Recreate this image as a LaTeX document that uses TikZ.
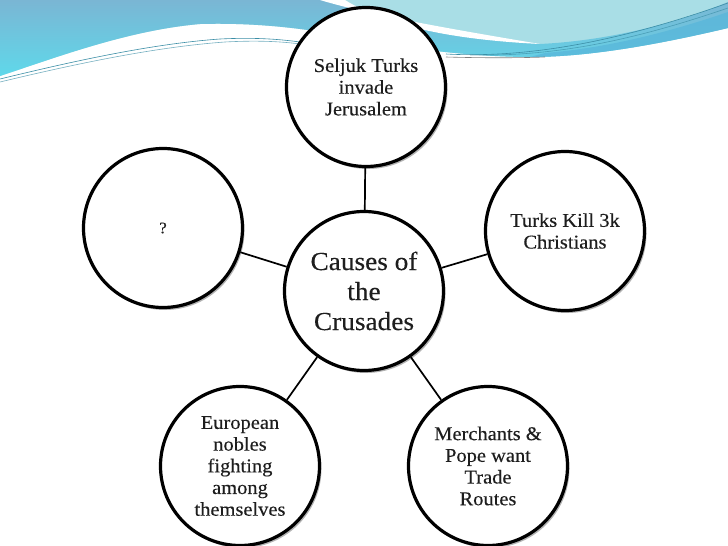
\documentclass[tikz,border=0pt]{standalone}
\usepackage{fontspec}
\setmainfont{Liberation Serif}[FakeStretch=1.05,FakeBold=0.25]
\usetikzlibrary{shadows}
\definecolor{aqua}{HTML}{A9DEE6}
\definecolor{mblue}{HTML}{7AB6D4}
\definecolor{cyanl}{HTML}{5FD8EA}
\definecolor{bandblue}{HTML}{58B6DA}
\definecolor{tealline}{HTML}{3B8EA6}
\definecolor{txt}{HTML}{1E1E1E}
\begin{document}
\begin{tikzpicture}[x=1pt,y=-1pt,
  bub/.style={circle, draw=black, line width=3.2pt, fill=white, minimum size=159pt,
    inner sep=0pt, align=center, text=txt, font=\fontsize{19.5}{21.7}\selectfont,
    drop shadow={shadow xshift=2pt, shadow yshift=-2.5pt, opacity=0.3, fill=black}},
  link/.style={line width=1.7pt, black},
  thin/.style={line width=0.6pt, tealline}]
\useasboundingbox (0,0) rectangle (728,546);
\fill[white] (0,0) rectangle (728,546);
% decorative wave at the top
\fill[aqua] (0,0) -- (728,0) -- (728,28) .. controls (660,44) and (590,57) .. (530,57)
  .. controls (480,57) and (420,50) .. (370,42) .. controls (330,32) and (270,22) .. (200,24)
  .. controls (130,30) and (60,56) .. (0,76) -- cycle;
\shade[top color=mblue, bottom color=cyanl] (0,0) -- (332,0) .. controls (375,20) and (440,32) .. (540,44)
  .. controls (620,40) and (690,18) .. (728,2) -- (728,28) .. controls (660,44) and (590,57) .. (530,57)
  .. controls (480,57) and (420,50) .. (370,42) .. controls (330,32) and (270,22) .. (200,24)
  .. controls (130,30) and (60,56) .. (0,76) -- cycle;
\fill[bandblue, opacity=0.75] (545,53) .. controls (620,47) and (690,25) .. (728,12) -- (728,28)
  .. controls (660,44) and (590,57) .. (530,57) -- cycle;
\fill[white] (320,0) .. controls (360,12) and (420,24) .. (540,44)
  .. controls (460,40) and (390,28) .. (345,0) -- cycle;
\draw[thin] (0,79) .. controls (70,62) and (150,44) .. (220,39) .. controls (260,37) and (285,40) .. (300,42);
\draw[thin, opacity=0.7] (0,82) .. controls (75,64) and (155,47) .. (225,42) .. controls (262,40) and (285,42) .. (300,44);
\draw[thin] (446,54) .. controls (520,58) and (610,45) .. (728,3);
\draw[thin, opacity=0.7] (470,55) .. controls (560,57) and (640,38) .. (728,8);
\draw[line width=0.6pt, gray] (446,57) .. controls (480,58) and (520,58) .. (545,57);
% circles
\node[bub, font=\fontsize{26}{30}\selectfont] (c) at (364,291) {Causes of\\the\\Crusades};
\node[bub] (t) at (366,87) {Seljuk Turks\\invade\\Jerusalem};
\node[bub] (r) at (565,231) {Turks Kill 3k\\Christians};
\node[bub, font=\fontsize{16}{19}\selectfont] (l) at (163,228) {?};
\node[bub] (bl) at (240,466) {European\\nobles\\fighting\\among\\themselves};
\node[bub] (br) at (488,466) {Merchants \&\\Pope want\\Trade\\Routes};
% connectors
\draw[link] (c) -- (t);
\draw[link] (c) -- (r);
\draw[link] (c) -- (l);
\draw[link] (c) -- (bl);
\draw[link] (c) -- (br);
\end{tikzpicture}
\end{document}
